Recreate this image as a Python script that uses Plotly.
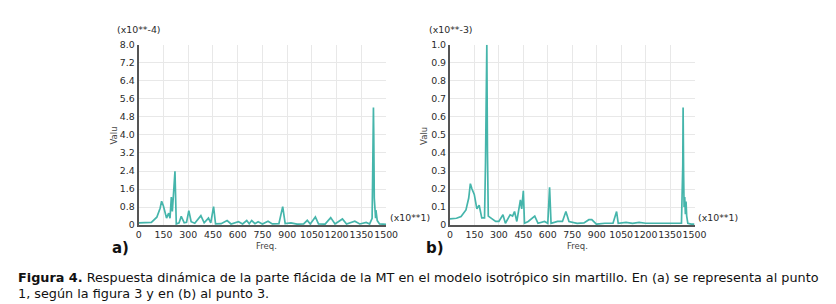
import plotly.graph_objects as go

# ---------------- data ----------------
freq_a = [0, 40, 77, 110, 130, 139, 150, 169, 182, 190, 198, 204, 208, 214, 220, 224, 228,
          245, 258, 276, 290, 304, 318, 340, 377, 397, 423, 437, 454, 466, 500, 536, 560,
          605, 630, 655, 670, 685, 705, 724, 750, 784, 810, 850, 873, 888, 923, 960, 1000,
          1022, 1040, 1071, 1090, 1130, 1164, 1190, 1235, 1260, 1310, 1340, 1379, 1400,
          1415, 1419, 1423, 1425, 1428, 1432, 1436, 1438, 1442, 1446, 1460, 1480, 1500]
val_a = [0.10, 0.10, 0.12, 0.35, 0.75, 1.06, 0.85, 0.31, 0.53, 0.30, 1.24, 0.60, 1.30, 1.70, 2.39, 0.90, 0.05,
         0.10, 0.39, 0.10, 0.12, 0.64, 0.15, 0.08, 0.42, 0.10, 0.31, 0.10, 0.82, 0.05, 0.06, 0.20, 0.05,
         0.15, 0.05, 0.20, 0.06, 0.20, 0.06, 0.15, 0.05, 0.17, 0.05, 0.06, 0.82, 0.07, 0.10, 0.04, 0.05,
         0.21, 0.05, 0.36, 0.05, 0.04, 0.33, 0.05, 0.27, 0.05, 0.17, 0.05, 0.12, 0.05,
         0.30, 2.60, 5.22, 4.00, 1.20, 0.60, 0.30, 0.67, 0.47, 0.20, 0.05, 0.03, 0.03]

freq_b = [0, 40, 68, 98, 115, 125, 135, 149, 165, 179, 195, 212, 218, 222, 224, 226, 230,
          235, 250, 280, 300, 325, 340, 369, 384, 396, 410, 424, 432, 440, 450, 457, 480,
          520, 540, 580, 600, 611, 620, 660, 690, 711, 730, 780, 822, 852, 870, 898, 950,
          1000, 1022, 1032, 1080, 1120, 1160, 1200, 1260, 1320, 1380, 1420, 1428, 1429, 1430,
          1433, 1436, 1440, 1444, 1448, 1452, 1459, 1480, 1500]
val_b = [0.034, 0.038, 0.048, 0.084, 0.15, 0.23, 0.20, 0.17, 0.09, 0.11, 0.04, 0.04, 0.35, 0.65, 0.88, 1.00, 0.40,
         0.05, 0.04, 0.02, 0.02, 0.057, 0.01, 0.057, 0.05, 0.075, 0.02, 0.10, 0.14, 0.09, 0.19, 0.01, 0.02,
         0.05, 0.01, 0.02, 0.01, 0.21, 0.01, 0.02, 0.02, 0.075, 0.02, 0.01, 0.012, 0.03, 0.03, 0.005, 0.01,
         0.01, 0.075, 0.01, 0.015, 0.01, 0.015, 0.01, 0.012, 0.01, 0.01, 0.01, 0.33, 0.55, 0.652,
         0.30, 0.10, 0.155, 0.06, 0.13, 0.05, 0.01, 0.005, 0.005]

x_ticks = [0, 150, 300, 450, 600, 750, 900, 1050, 1200, 1350, 1500]
x_tick_labels = ["0", "150", "300", "450", "600", "750", "900", "1050", "1200", "1350", "1500"]
ya_ticks = [0, 0.8, 1.6, 2.4, 3.2, 4.0, 4.8, 5.6, 6.4, 7.2, 8.0]
ya_tick_labels = ["0", "0.8", "1.6", "2.4", "3.2", "4.0", "4.8", "5.6", "6.4", "7.2", "8.0"]
yb_ticks = [0, 0.1, 0.2, 0.3, 0.4, 0.5, 0.6, 0.7, 0.8, 0.9, 1.0]
yb_tick_labels = ["0", "0.1", "0.2", "0.3", "0.4", "0.5", "0.6", "0.7", "0.8", "0.9", "1.0"]

caption_1 = "<b>Figura 4.</b> Respuesta dinámica de la parte flácida de la MT en el modelo isotrópico sin martillo. En (a) se representa al punto"
caption_2 = "1, según la figura 3 y en (b) al punto 3."

# ---------------- figure ----------------
W, H = 836, 304
LINE = "#45b5ab"
FONT = "DejaVu Sans"

fig = go.Figure()
fig.add_trace(go.Scatter(x=freq_a, y=val_a, mode="lines", line=dict(color=LINE, width=1.7),
                         xaxis="x", yaxis="y", showlegend=False))
fig.add_trace(go.Scatter(x=freq_b, y=val_b, mode="lines", line=dict(color=LINE, width=1.7),
                         xaxis="x2", yaxis="y2", showlegend=False))

def px(x):
    return x / W

def py(y):
    return 1 - y / H

axis_common = dict(showgrid=True, gridcolor="#e8e8e8", gridwidth=1, zeroline=False,
                   showline=True, linecolor="#555555", linewidth=2, ticks="",
                   tickfont=dict(family=FONT, size=9.4, color="#2a2a2a"), tickangle=0)

fig.update_layout(
    width=W, height=H, autosize=False,
    margin=dict(l=0, r=0, t=0, b=0),
    paper_bgcolor="white", plot_bgcolor="white",
    xaxis=dict(domain=[px(130), px(382)], range=[0, 1500], tickmode="array",
               tickvals=x_ticks, ticktext=x_tick_labels, anchor="y", **axis_common),
    yaxis=dict(domain=[py(219), py(32)], range=[0, 8.0], tickmode="array",
               tickvals=ya_ticks, ticktext=ya_tick_labels, anchor="x", **axis_common),
    xaxis2=dict(domain=[px(447), px(696)], range=[0, 1500], tickmode="array",
                tickvals=x_ticks, ticktext=x_tick_labels, anchor="y2", **axis_common),
    yaxis2=dict(domain=[py(219), py(32)], range=[0, 1.0], tickmode="array",
                tickvals=yb_ticks, ticktext=yb_tick_labels, anchor="x2", **axis_common),
)

small = dict(family=FONT, size=9.4, color="#2a2a2a")
ann = []
def add(text, x, y, font, xanchor="center", yanchor="middle", textangle=0):
    ann.append(dict(text=text, x=px(x), y=py(y), xref="paper", yref="paper",
                    showarrow=False, xanchor=xanchor, yanchor=yanchor, font=font,
                    textangle=textangle))

add("(x10**-4)", 130, 16, small)
add("(x10**-3)", 448, 16, small)
add("(x10**1)", 384, 211, small, xanchor="left")
add("(x10**1)", 698, 211, small, xanchor="left")
add("Valu", 105, 126, dict(family=FONT, size=8.5, color="#444444"), textangle=-90)
add("Valu", 421, 126, dict(family=FONT, size=8.5, color="#444444"), textangle=-90)
add("Freq.", 260, 241, dict(family=FONT, size=8.5, color="#444444"))
add("Freq.", 577, 241, dict(family=FONT, size=8.5, color="#444444"))
add("<b>a)</b>", 111, 243, dict(family=FONT, size=15, color="#111111"))
add("<b>b)</b>", 432, 243, dict(family=FONT, size=15, color="#111111"))
add(caption_1, 5, 273, dict(family=FONT, size=12.8, color="#111111"), xanchor="left")
add(caption_2, 5, 290, dict(family=FONT, size=12.8, color="#111111"), xanchor="left")
fig.update_layout(annotations=ann)

fig.write_html("out.html")
